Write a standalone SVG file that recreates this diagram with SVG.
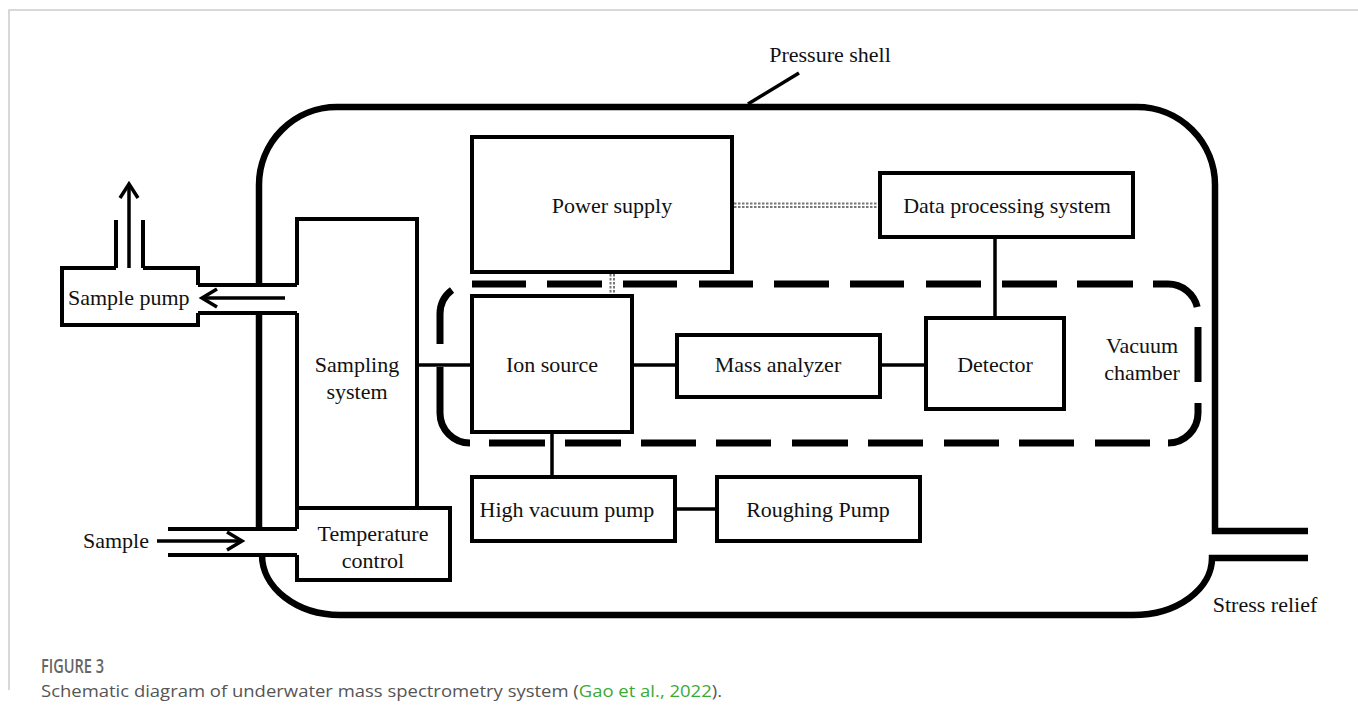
<svg xmlns="http://www.w3.org/2000/svg" width="1358" height="717" viewBox="0 0 1358 717">
<style>
.box{fill:none;stroke:#000;stroke-width:4}
.ln{fill:none;stroke:#000;stroke-width:3.5}
.shell{fill:none;stroke:#000;stroke-width:6.5}
.vac{fill:none;stroke:#000;stroke-width:7}
.dot{fill:none;stroke:#777;stroke-width:2;stroke-dasharray:2.5 1.5}
.t{font-family:"Liberation Serif","Times New Roman",serif;font-size:22px;fill:#111;text-anchor:middle}
.cap{font-family:"Open Sans","Noto Sans",sans-serif;font-size:17px;fill:#555}
</style>
<rect x="0" y="0" width="1358" height="717" fill="#fff"/>
<path d="M9 690 V10 H1358" fill="none" stroke="#ccc" stroke-width="1.5"/>

<g id="pressure-shell">
<path class="shell" d="M259 285 V185 A78 78 0 0 1 337 107 H1137 A78 78 0 0 1 1215 185 V531 H1308"/>
<path class="shell" d="M1308 558 H1212 A79 57 0 0 1 1133 615 H340 A78 60 0 0 1 262 555"/>
<path class="shell" d="M259 313 V529"/>
<line class="ln" x1="799" y1="73" x2="748" y2="104" stroke-width="2.5"/>
<text class="t" x="830" y="62">Pressure shell</text>
<text class="t" x="1265" y="612">Stress relief</text>
</g>

<g id="vacuum-chamber">
<path class="vac" d="M440 344 V314 A30 30 0 0 1 452 290"/>
<path class="vac" d="M472 284H526M547 284H602M623 284H677M699 284H753M774 284H829M850 284H904M926 284H981M1002 284H1057M1077 284H1133"/>
<path class="vac" d="M1153 284 H1168 A30 30 0 0 1 1197.2 307"/>
<path class="vac" d="M1198 327 V382"/>
<path class="vac" d="M1198 403 V413 A30 30 0 0 1 1168 443"/>
<path class="vac" d="M489 443H545M565 443H621M641 443H696M716 443H771M792 443H848M868 443H923M944 443H999M1019 443H1074M1095 443H1150"/>
<path class="vac" d="M470 443 A30 30 0 0 1 440 413 V367"/>
<text class="t" x="1142" y="353">Vacuum</text>
<text class="t" x="1142" y="380">chamber</text>
</g>

<g id="sample-pump">
<path class="box" d="M198 285 V268 H143 M116 268 H62 V325 H198 V313"/>
<line class="box" x1="116" y1="220" x2="116" y2="268"/>
<line class="box" x1="143" y1="220" x2="143" y2="268"/>
<text class="t" x="68" y="305" style="text-anchor:start">Sample pump</text>
</g>

<g id="sampling-system">
<path class="box" d="M297 285 V219 H417 V508 M297 313 V529"/>
<text class="t" x="357" y="372">Sampling</text>
<text class="t" x="357" y="399">system</text>
</g>

<g id="temperature-control">
<path class="box" d="M297 529 V508 H450 V580 H297 V555"/>
<text class="t" x="373" y="541">Temperature</text>
<text class="t" x="373" y="568">control</text>
</g>

<g id="sample-inlet">
<text class="t" x="116" y="548">Sample</text>
</g>

<g id="power-supply">
<rect class="box" x="472" y="137" width="260" height="135"/>
<text class="t" x="612" y="213">Power supply</text>
</g>

<g id="data-processing">
<rect class="box" x="880" y="173" width="253" height="64"/>
<text class="t" x="1007" y="213">Data processing system</text>
</g>

<g id="ion-source">
<rect class="box" x="472" y="296" width="160" height="136"/>
<text class="t" x="552" y="372">Ion source</text>
</g>

<g id="mass-analyzer">
<rect class="box" x="677" y="335" width="203" height="62"/>
<text class="t" x="778" y="372">Mass analyzer</text>
</g>

<g id="detector">
<rect class="box" x="926" y="318" width="138" height="91"/>
<text class="t" x="995" y="372">Detector</text>
</g>

<g id="high-vacuum-pump">
<rect class="box" x="472" y="477" width="203" height="64"/>
<text class="t" x="567" y="517">High vacuum pump</text>
</g>

<g id="roughing-pump">
<rect class="box" x="717" y="477" width="203" height="64"/>
<text class="t" x="818" y="517">Roughing Pump</text>
</g>

<g id="connectors">
<line class="box" x1="198" y1="285" x2="297" y2="285"/>
<line class="box" x1="198" y1="313" x2="297" y2="313"/>
<line class="box" x1="168" y1="529" x2="297" y2="529"/>
<line class="box" x1="168" y1="555" x2="297" y2="555"/>
<line class="ln" x1="285" y1="298" x2="203" y2="298"/>
<path class="ln" d="M217 289 L202 298 L217 307"/>
<line class="ln" x1="129" y1="268" x2="129" y2="186"/>
<path class="ln" d="M120 198 L129 184 L138 198"/>
<line class="ln" x1="157" y1="541" x2="240" y2="541"/>
<path class="ln" d="M227 532 L242 541 L227 550"/>
<line class="ln" x1="417" y1="365" x2="472" y2="365"/>
<line class="ln" x1="632" y1="365" x2="677" y2="365"/>
<line class="ln" x1="880" y1="365" x2="926" y2="365"/>
<line class="ln" x1="995" y1="237" x2="995" y2="318"/>
<line class="ln" x1="552" y1="432" x2="552" y2="477"/>
<line class="ln" x1="675" y1="509" x2="717" y2="509"/>
<line class="dot" x1="734" y1="203.5" x2="878" y2="203.5"/>
<line class="dot" x1="734" y1="207" x2="878" y2="207"/>
<line class="dot" x1="610.5" y1="274" x2="610.5" y2="294"/>
<line class="dot" x1="614" y1="274" x2="614" y2="294"/>
</g>

<g id="caption">
<text class="cap" x="41" y="673" textLength="63" lengthAdjust="spacingAndGlyphs" style="font-size:19px;font-weight:600;fill:#666">FIGURE 3</text>
<text class="cap" x="41" y="697" textLength="681" lengthAdjust="spacingAndGlyphs">Schematic diagram of underwater mass spectrometry system (<tspan fill="#3aaa35">Gao et al., 2022</tspan>).</text>
</g>
</svg>
